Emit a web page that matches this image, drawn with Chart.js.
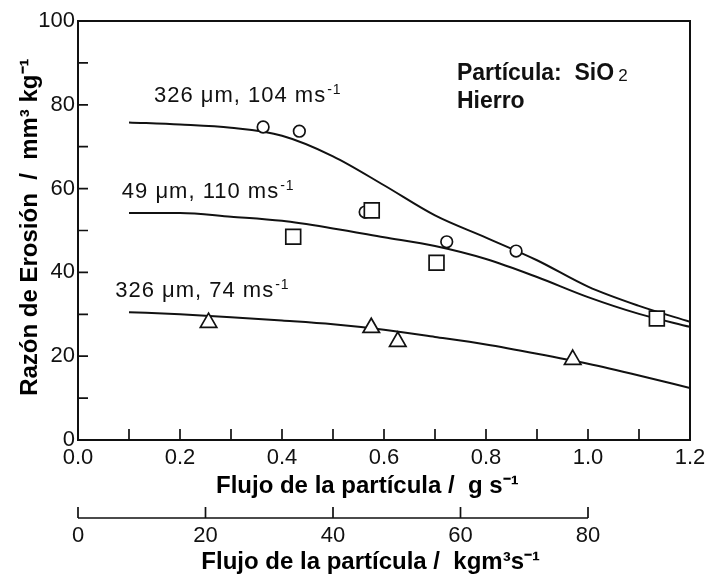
<!DOCTYPE html>
<html>
<head>
<meta charset="utf-8">
<script src="https://cdn.jsdelivr.net/npm/chart.js@4.4.0/dist/chart.umd.min.js"></script>
<style>
  html, body { margin: 0; padding: 0; background: #fff; }
</style>
</head>
<body>
<canvas id="myChart" width="712" height="578"></canvas>
<script>
const curveX = [0.1, 0.2, 0.3, 0.4, 0.5, 0.6, 0.7, 0.8, 0.9, 1.0, 1.1, 1.2]
const curve326_104 = [75.8, 75.3, 74.5, 72.6, 67.7, 60.8, 53.6, 48.3, 42.9, 36.6, 32.0, 28.2]
const curve49_110 = [54.2, 54.2, 53.3, 52.3, 50.5, 48.4, 46.3, 43.2, 38.9, 34.1, 30.1, 27.0]
const curve326_74 = [30.5, 30.0, 29.3, 28.5, 27.6, 26.3, 24.6, 22.8, 20.6, 18.2, 15.4, 12.4]

// measured points
const circleX = [0.363, 0.434, 0.563, 0.723, 0.859]
const circleY = [74.7, 73.7, 54.4, 47.3, 45.1]
const squareX = [0.422, 0.576, 0.703, 1.135]
const squareY = [48.5, 54.8, 42.3, 29.0]
const triangleX = [0.256, 0.575, 0.627, 0.970]
const triangleY = [28.0, 26.8, 23.5, 19.2]

// second axis: 80 kgm3s-1 lines up with 1.0 g/s
const secondTicks = [0, 20, 40, 60, 80]
const secondPerFirst = 80

const curveLabels = [
    ['326 μm, 104 ms', '-1'],
    ['49 μm, 110 ms', '-1'],
    ['326 μm, 74 ms', '-1']
]
const curveLabelAt = [[0.149, 80.7], [0.086, 57.8], [0.073, 34.1]]

const ink = '#111'
const family = '"Liberation Sans", Arial, Helvetica, sans-serif'

const toPoints = (xs, ys) => xs.map((x, i) => ({ x, y: ys[i] }))

const curve = (ys) => ({
    data: toPoints(curveX, ys),
    showLine: true,
    borderColor: ink,
    borderWidth: 2,
    pointRadius: 0,
    cubicInterpolationMode: 'monotone',
    order: 2
})

const marker = (xs, ys, style, radius, order) => ({
    data: toPoints(xs, ys),
    showLine: false,
    pointStyle: style,
    pointRadius: radius,
    pointBackgroundColor: '#fff',
    pointBorderColor: ink,
    pointBorderWidth: 1.7,
    order
})

const drawSup = (ctx, base, sup, x, y) => {
    ctx.font = `22px ${family}`
    ctx.fillText(base, x, y)
    const w = ctx.measureText(base).width
    ctx.font = `14px ${family}`
    ctx.fillText(sup, x + w + 1, y - 8)
}

const frameAndTicks = {
    id: 'frameAndTicks',
    afterDraw(chart) {
        const { ctx, chartArea: a, scales } = chart
        ctx.save()
        ctx.strokeStyle = ink
        ctx.lineWidth = 2
        ctx.strokeRect(a.left, a.top, a.right - a.left, a.bottom - a.top)

        // inward tick marks
        ctx.lineWidth = 1.7
        ctx.beginPath()
        scales.x.ticks.forEach(t => {
            const px = scales.x.getPixelForValue(t.value)
            ctx.moveTo(px, a.bottom)
            ctx.lineTo(px, a.bottom - 11)
        })
        scales.y.ticks.forEach(t => {
            const py = scales.y.getPixelForValue(t.value)
            ctx.moveTo(a.left, py)
            ctx.lineTo(a.left + 10, py)
        })

        // second x axis line, only as far as 80
        const s = scales.x2
        const yLine = s.top + 16
        ctx.moveTo(s.getPixelForValue(secondTicks[0]), yLine)
        ctx.lineTo(s.getPixelForValue(secondTicks[secondTicks.length - 1]), yLine)
        secondTicks.forEach(v => {
            const px = s.getPixelForValue(v)
            ctx.moveTo(px, yLine)
            ctx.lineTo(px, yLine - 11)
        })
        ctx.stroke()

        // curve labels
        ctx.fillStyle = ink
        ctx.textBaseline = 'alphabetic'
        ctx.textAlign = 'left'
        if ('letterSpacing' in ctx) ctx.letterSpacing = '1px'
        curveLabels.forEach((lab, i) => {
            const [vx, vy] = curveLabelAt[i]
            drawSup(ctx, lab[0], lab[1], scales.x.getPixelForValue(vx), scales.y.getPixelForValue(vy))
        })
        if ('letterSpacing' in ctx) ctx.letterSpacing = '0px'

        // material note
        const nx = scales.x.getPixelForValue(0.743)
        ctx.font = `bold 23px ${family}`
        const base = 'Partícula:  SiO'
        ctx.fillText(base, nx, scales.y.getPixelForValue(85.9))
        const w = ctx.measureText(base).width
        ctx.font = `17px ${family}`
        ctx.fillText('2', nx + w + 4, scales.y.getPixelForValue(85.9) + 1)
        ctx.font = `bold 23px ${family}`
        ctx.fillText('Hierro', nx, scales.y.getPixelForValue(79.2))
        ctx.restore()
    }
}

const myChart = document.getElementById('myChart')

new Chart(myChart, {
    type: 'scatter',
    data: {
        datasets: [
            curve(curve326_104),
            curve(curve49_110),
            curve(curve326_74),
            marker(circleX, circleY, 'circle', 5.8, 1),
            marker(squareX, squareY, 'rect', 10.5, 0),
            marker(triangleX, triangleY, 'triangle', 9.5, 1)
        ]
    },
    options: {
        responsive: false,
        animation: false,
        layout: { padding: { left: 0, right: 22, top: 21, bottom: 0 } },
        plugins: { legend: { display: false }, tooltip: { enabled: false } },
        scales: {
            x: {
                type: 'linear',
                position: 'bottom',
                weight: 0,
                min: 0,
                max: 1.2,
                grid: { display: false, drawTicks: false },
                border: { display: false },
                ticks: {
                    stepSize: 0.1,
                    autoSkip: false,
                    maxRotation: 0,
                    padding: 5,
                    color: ink,
                    font: { family, size: 22 },
                    callback: (v) => Math.round(v * 10) % 2 === 0 ? v.toFixed(1) : ''
                },
                title: {
                    display: true,
                    // trailing spaces pull the centred title a little left, as in the original
                    text: 'Flujo de la partícula /  g s⁻¹     ',
                    color: '#000',
                    font: { family, size: 24, weight: 'bold' },
                    padding: { top: 0, bottom: 1 }
                },
                afterFit: (scale) => { scale.height = 62 }
            },
            x2: {
                type: 'linear',
                position: 'bottom',
                weight: 1,
                min: 0,
                max: 1.2 * secondPerFirst,
                grid: { display: false, drawTicks: false },
                border: { display: false },
                afterBuildTicks: (scale) => { scale.ticks = secondTicks.map(value => ({ value })) },
                ticks: {
                    autoSkip: false,
                    maxRotation: 0,
                    padding: 21,
                    color: ink,
                    font: { family, size: 22 }
                },
                title: {
                    display: true,
                    text: 'Flujo de la partícula /  kgm³s⁻¹    ',
                    color: '#000',
                    font: { family, size: 24, weight: 'bold' },
                    padding: { top: 0, bottom: 1 }
                },
                afterFit: (scale) => { scale.height = 76 }
            },
            y: {
                min: 0,
                max: 100,
                grid: { display: false, drawTicks: false },
                border: { display: false },
                ticks: {
                    stepSize: 10,
                    autoSkip: false,
                    padding: 3,
                    color: ink,
                    font: { family, size: 22 },
                    callback: (v) => v % 20 === 0 ? v : ''
                },
                title: {
                    display: true,
                    text: ' Razón de Erosión  /  mm³ kg⁻¹',
                    color: '#000',
                    font: { family, size: 24, weight: 'bold' },
                    padding: { top: 16, bottom: 0 }
                },
                afterFit: (scale) => { scale.width = 78 }
            }
        }
    },
    plugins: [frameAndTicks]
})
</script>
</body>
</html>
